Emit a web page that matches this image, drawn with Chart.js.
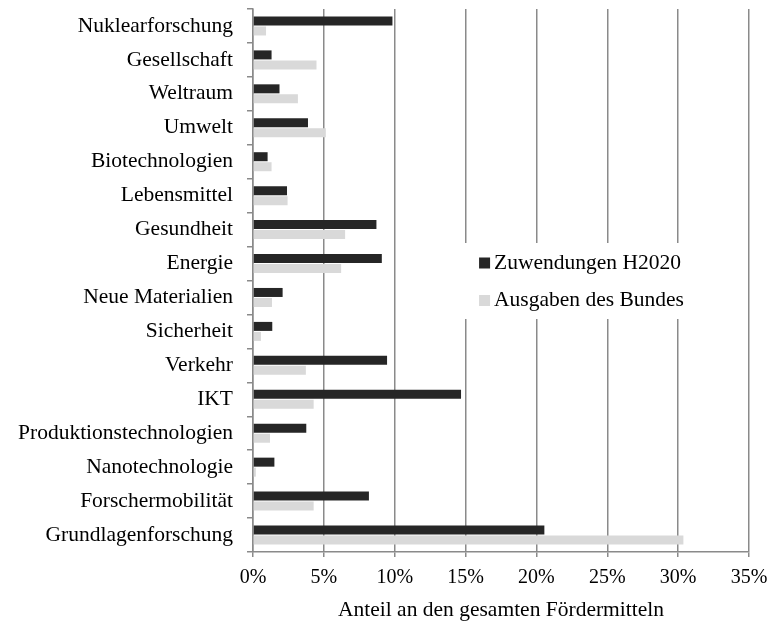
<!DOCTYPE html>
<html>
<head>
<meta charset="utf-8">
<script src="https://cdn.jsdelivr.net/npm/chart.js@4.4.0/dist/chart.umd.min.js"></script>
<style>
  html, body { margin: 0; padding: 0; background: #ffffff; }
  #wrap { width: 769px; height: 621px; }
</style>
</head>
<body>
<div id="wrap"><canvas id="c" width="769" height="621"></canvas></div>
<script>
const categories = [
  "Nuklearforschung", "Gesellschaft", "Weltraum", "Umwelt", "Biotechnologien",
  "Lebensmittel", "Gesundheit", "Energie", "Neue Materialien", "Sicherheit",
  "Verkehr", "IKT", "Produktionstechnologien", "Nanotechnologie",
  "Forschermobilität", "Grundlagenforschung"
];
const seriesNames = ["Zuwendungen H2020", "Ausgaben des Bundes"];
const h2020 = [9.84, 1.31, 1.87, 3.88, 1.03, 2.40, 8.71, 9.09, 2.09, 1.36, 9.46, 14.68, 3.76, 1.51, 8.18, 20.56];
const bund  = [0.92, 4.48, 3.17, 5.14, 1.31, 2.44, 6.50, 6.22, 1.34, 0.56, 3.73, 4.28, 1.20, 0.20, 4.28, 30.37];
const xTicks = [0, 5, 10, 15, 20, 25, 30, 35];
const xTitle = "Anteil an den gesamten Fördermitteln";

const colors = ["#262626", "#d9d9d9"];
const gridColor = "#8a8a8a";
const fontFamily = "'Liberation Serif', 'Times New Roman', serif";

const insideLegend = {
  id: 'insideLegend',
  afterDatasetsDraw(chart) {
    const ctx = chart.ctx;
    const xs = chart.scales.x;
    const area = chart.chartArea;
    const left = xs.getPixelForValue(15) - 1.5;
    const right = xs.getPixelForValue(35) - 2;
    const top = area.top + 234;
    const bottom = area.top + 310;
    ctx.save();
    ctx.fillStyle = '#ffffff';
    ctx.fillRect(left, top, right - left, bottom - top);
    ctx.font = "21.5px " + fontFamily;
    ctx.textBaseline = 'middle';
    ctx.textAlign = 'left';
    chart.data.datasets.forEach((ds, i) => {
      const cy = top + 20 + i * 37.5;
      ctx.fillStyle = ds.backgroundColor;
      ctx.fillRect(left + 15, cy - 5.5, 11, 11);
      ctx.fillStyle = '#000000';
      ctx.fillText(ds.label, left + 30, cy);
    });
    ctx.restore();
  }
};

function zeroPad(scale) {
  scale.paddingTop = 0;
  scale.paddingBottom = 0;
  scale.paddingLeft = 0;
  scale.paddingRight = 0;
}

new Chart(document.getElementById('c'), {
  type: 'bar',
  data: {
    labels: categories,
    datasets: [
      { label: seriesNames[0], data: h2020, backgroundColor: colors[0],
        categoryPercentage: 0.59, barPercentage: 0.9 },
      { label: seriesNames[1], data: bund, backgroundColor: colors[1],
        categoryPercentage: 0.59, barPercentage: 0.9 }
    ]
  },
  options: {
    indexAxis: 'y',
    responsive: false,
    animation: false,
    devicePixelRatio: 1,
    layout: { padding: { top: 9, right: 20, left: 0, bottom: 0 } },
    plugins: {
      legend: { display: false },
      tooltip: { enabled: false }
    },
    scales: {
      x: {
        min: 0, max: 35,
        afterBuildTicks(scale) { scale.ticks = xTicks.map(v => ({ value: v })); },
        afterFit(scale) { scale.height = 69; zeroPad(scale); },
        grid: { color: gridColor, lineWidth: 1.5, tickLength: 5, drawOnChartArea: true },
        border: { display: true, color: gridColor, width: 1.5 },
        ticks: {
          color: '#000000',
          padding: 9,
          maxRotation: 0,
          font: { family: fontFamily, size: 20 },
          callback: (v) => v + '%'
        },
        title: {
          display: true,
          text: xTitle,
          color: '#000000',
          padding: { top: 0, bottom: 0 },
          font: { family: fontFamily, size: 21.5, lineHeight: 1 }
        }
      },
      y: {
        afterFit(scale) { scale.width = 253; zeroPad(scale); },
        grid: { color: gridColor, lineWidth: 1.5, tickLength: 6, drawOnChartArea: false, offset: true },
        border: { display: true, color: gridColor, width: 1.5 },
        ticks: {
          color: '#000000',
          padding: 14,
          autoSkip: false,
          font: { family: fontFamily, size: 21.5 }
        }
      }
    }
  },
  plugins: [insideLegend]
});
</script>
</body>
</html>
